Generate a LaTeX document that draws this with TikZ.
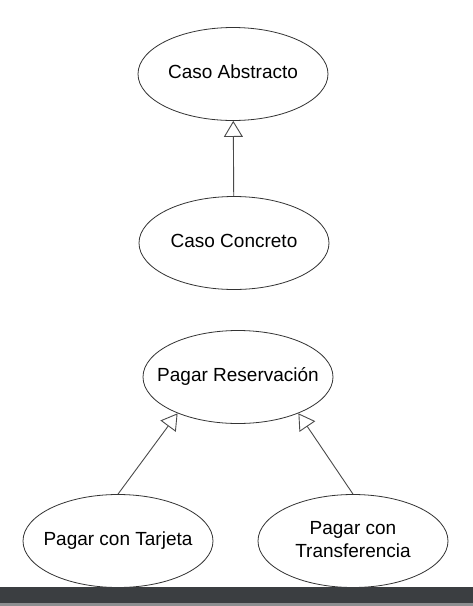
\documentclass[tikz,border=0pt]{standalone}
\usepackage{fontspec}
\setmainfont{Liberation Sans}
\usepackage{tikz}
\usetikzlibrary{positioning,shapes.geometric,arrows.meta}
\definecolor{ucline}{HTML}{333333}
\definecolor{genline}{HTML}{4A4A4A}
\definecolor{bardark}{HTML}{3B3E41}
\definecolor{barlight}{HTML}{8C8E90}

% texto sin ancho, para que la elipse tenga siempre el mismo tamano
\newcommand{\uctext}[1]{\makebox[0pt]{\begin{tabular}{@{}c@{}}#1\end{tabular}}}

\tikzset{
  usecase/.style={ellipse, draw=ucline, line width=0.8pt, fill=white,
    minimum width=190pt, minimum height=93pt, inner sep=0pt, align=center,
    font=\fontsize{19}{23}\selectfont},
  generaliza/.style={draw=genline, line width=0.9pt,
    -{Triangle[open, length=16pt, width=19pt, line width=0.9pt]}}
}

\begin{document}
\begin{tikzpicture}[x=1pt, y=-1pt]
  \useasboundingbox (0,0) rectangle (473,606);
  \fill[white] (0,0) rectangle (473,606);

  % ejemplo generico
  \node[usecase] (abstracto) at (233,74) {\uctext{Caso Abstracto}};
  \node[usecase] (concreto) at (234,243) {\uctext{Caso Concreto}};
  \draw[generaliza] (concreto) -- (abstracto);

  % pago de reservas
  \node[usecase] (reserva) at (238,377) {\uctext{Pagar Reservación}};
  \node[usecase] (tarjeta) at (118,541) {\uctext{Pagar con Tarjeta}};
  \node[usecase] (transfer) at (353,541) {\uctext{Pagar con\\Transferencia}};
  \draw[generaliza] (tarjeta.north) -- (reserva.211);
  \draw[generaliza] (transfer.north) -- (reserva.329);

  % barra inferior
  \fill[bardark] (0,587) rectangle (473,603);
  \fill[barlight] (0,603) rectangle (473,606);
\end{tikzpicture}
\end{document}
